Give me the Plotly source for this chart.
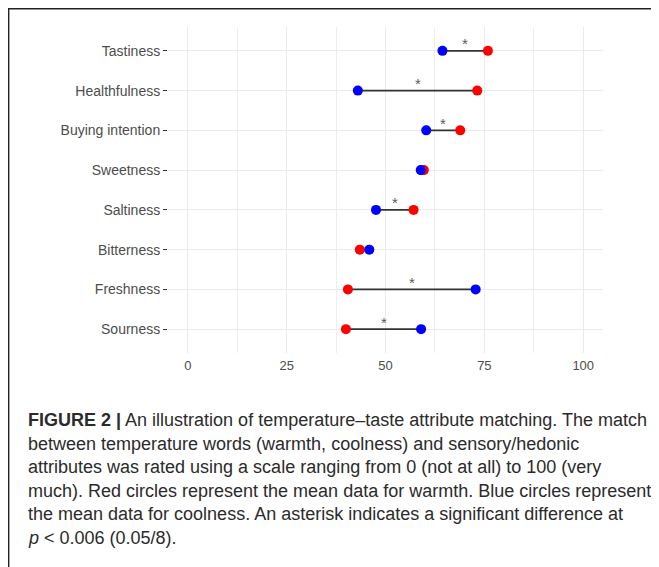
import plotly.graph_objects as go

# ---- data (top to bottom as shown) ----
attributes = ["Tastiness", "Healthfulness", "Buying intention", "Sweetness",
              "Saltiness", "Bitterness", "Freshness", "Sourness"]
warmth = [75.9, 73.2, 68.9, 59.7, 57.1, 43.5, 40.5, 40.0]
coolness = [64.4, 43.0, 60.3, 58.9, 47.6, 45.9, 72.8, 59.0]
significant = [True, True, True, False, True, False, True, True]
x_ticks = [0, 25, 50, 75, 100]

caption_lines = [
    "<b>FIGURE 2 |</b> An illustration of temperature\u2013taste attribute matching. The match",
    "between temperature words (warmth, coolness) and sensory/hedonic",
    "attributes was rated using a scale ranging from 0 (not at all) to 100 (very",
    "much). Red circles represent the mean data for warmth. Blue circles represent",
    "the mean data for coolness. An asterisk indicates a significant difference at",
    "<i>p</i> &lt; 0.006 (0.05/8).",
]

# ---- layout geometry (reference pixels; page has an 8px body margin) ----
OFF = 8
W, H = 659 - OFF, 567 - OFF
PL, PR, PT, PB = 168, 603, 27, 353   # plot area in reference pixels


def xp(px):
    return (px - PL) / (PR - PL)


def yp(py):
    return (PB - py) / (PB - PT)


fig = go.Figure()

# connecting segments
seg_x, seg_y = [], []
for a, w, c in zip(attributes, warmth, coolness):
    seg_x += [w, c, None]
    seg_y += [a, a, None]
fig.add_trace(go.Scatter(x=seg_x, y=seg_y, mode="lines",
                         line=dict(color="#333333", width=1.7),
                         hoverinfo="skip", showlegend=False))

fig.add_trace(go.Scatter(x=warmth, y=attributes, mode="markers", name="Warmth",
                         marker=dict(color="#FF0000", size=10),
                         showlegend=False))
fig.add_trace(go.Scatter(x=coolness, y=attributes, mode="markers", name="Coolness",
                         marker=dict(color="#0000FF", size=10),
                         showlegend=False))

annotations = []
for a, w, c, s in zip(attributes, warmth, coolness, significant):
    if s:
        annotations.append(dict(x=(w + c) / 2, y=a, xref="x", yref="y",
                                text="*", showarrow=False, yshift=7,
                                font=dict(family="Liberation Sans", size=15,
                                          color="#5a5a5a")))

caption_centers = [420.4, 443.9, 467.4, 490.9, 514.4, 537.9]
for line, cy in zip(caption_lines, caption_centers):
    annotations.append(dict(x=xp(25.5), y=yp(cy), xref="paper", yref="paper",
                            xanchor="left", yanchor="middle", align="left",
                            text=line, showarrow=False,
                            font=dict(family="Liberation Sans", size=18,
                                      color="#2b2b2b")))

shapes = [
    dict(type="line", xref="paper", yref="paper",
         x0=xp(7.5), x1=xp(659 + 5), y0=yp(8.6), y1=yp(8.6),
         line=dict(color="#222222", width=1.6)),
    dict(type="line", xref="paper", yref="paper",
         x0=xp(8.6), x1=xp(8.6), y0=yp(7.5), y1=yp(567 + 5),
         line=dict(color="#222222", width=1.6)),
]

fig.update_layout(
    width=W, height=H,
    margin=dict(l=PL - OFF, r=W - (PR - OFF), t=PT - OFF, b=H - (PB - OFF), pad=0),
    paper_bgcolor="white", plot_bgcolor="white",
    font=dict(family="Liberation Sans", color="#4d4d4d"),
    annotations=annotations, shapes=shapes,
    xaxis=dict(range=[-5, 105], tickvals=x_ticks, ticktext=[str(v) for v in x_ticks],
               showgrid=True, gridcolor="#EBEBEB", gridwidth=1.1,
               minor=dict(tickvals=[12.5, 37.5, 62.5, 87.5], showgrid=True,
                          gridcolor="#EEEEEE", gridwidth=0.6),
               zeroline=False, showline=False, ticks="", ticklabelstandoff=3,
               tickfont=dict(size=13, color="#4d4d4d")),
    yaxis=dict(type="category", categoryorder="array",
               categoryarray=attributes[::-1], range=[-0.6, 7.6],
               showgrid=True, gridcolor="#EBEBEB", gridwidth=1.1,
               zeroline=False, showline=False,
               ticks="outside", ticklen=4, tickcolor="#333333", tickwidth=1,
               tickfont=dict(size=14, color="#4d4d4d")),
)

fig.write_html("out.html")
